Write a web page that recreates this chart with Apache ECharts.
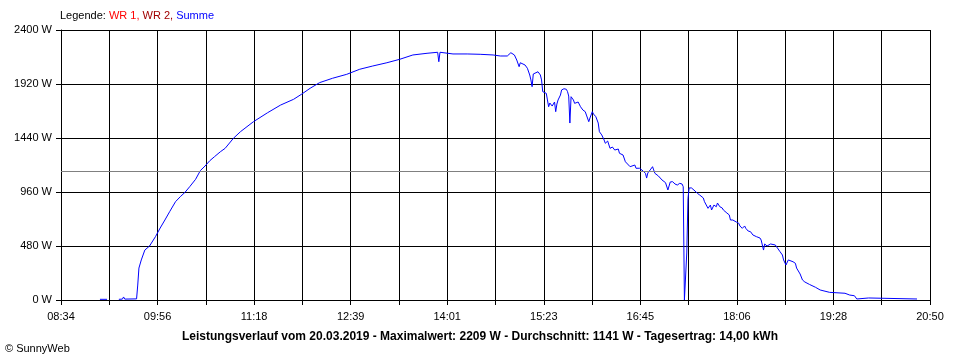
<!DOCTYPE html>
<html>
<head>
<meta charset="utf-8">
<script src="https://cdn.jsdelivr.net/npm/echarts@6/dist/echarts.min.js"></script>
<style>
html,body{margin:0;padding:0;background:#fff;}
#chart{width:960px;height:360px;}
</style>
</head>
<body>
<div id="chart"></div>
<script>
// Time axis: 08:34 .. 20:50
const startTime = '08:34';
const endTime = '20:50';
const yTicks = [0, 480, 960, 1440, 1920, 2400];
const meanValue = 1141;

// Summe (W) readings
const times = [
 '09:07','09:13',null,'09:23','09:26','09:27','09:28','09:38','09:39','09:40','09:42','09:45','09:49','09:54','09:58',
 '10:02','10:06','10:11','10:15','10:19','10:23','10:28','10:32','10:36','10:40','10:44','10:49','10:53','11:00','11:06',
 '11:17','11:29','11:40','11:51','11:58','12:05','12:13','12:24','12:36','12:47','12:58','13:10','13:21','13:32','13:44',
 '13:53','13:54','13:55','14:06','14:18','14:29','14:40','14:46','14:52','14:55','14:58','15:00','15:02','15:03','15:07',
 '15:09','15:11','15:12','15:13','15:14','15:15','15:18','15:20','15:21','15:22','15:25','15:26','15:27','15:28','15:30',
 '15:31','15:32','15:33','15:34','15:35','15:37','15:38','15:40','15:42','15:43','15:44','15:45','15:46','15:48','15:49',
 '15:52','15:54','15:56','15:58','15:59','16:01','16:02','16:04','16:05','16:07','16:09','16:10','16:12','16:14','16:15',
 '16:16','16:17','16:19','16:21','16:23','16:26','16:27','16:30','16:32','16:33','16:36','16:40','16:41','16:44','16:47',
 '16:49','16:50','16:51','16:53','16:55','16:56','16:57','17:00','17:01','17:03','17:06','17:07','17:08','17:10','17:12',
 '17:14','17:16','17:18','17:20','17:21','17:22','17:23','17:24','17:25','17:26','17:28','17:29','17:31','17:33','17:35',
 '17:38','17:39','17:42','17:44','17:45','17:47','17:49','17:50','17:52','17:54','17:55','17:58','18:00','18:01','18:03',
 '18:06','18:08','18:09','18:11','18:13','18:14','18:16','18:18','18:20','18:23','18:26','18:27','18:29','18:30','18:32',
 '18:35','18:36','18:39','18:40','18:43','18:45','18:46','18:48','18:50','18:51','18:54','18:56','18:57','19:00','19:02',
 '19:04','19:08','19:13','19:17','19:25','19:38','19:42','19:46','19:48','19:49','19:58','19:59','20:39'
];
const summe = [
 6,6,null,6,8,27,8,10,133,284,356,444,480,563,640,
 711,785,874,918,957,1007,1073,1150,1191,1238,1274,1318,1348,1437,1496,
 1585,1665,1733,1784,1831,1882,1932,1971,2006,2051,2080,2109,2140,2178,2193,
 2202,2118,2202,2187,2187,2184,2178,2169,2169,2198,2178,2133,2074,2109,2089,
 2060,2000,1956,1896,2009,2015,2029,2000,1956,1852,1837,1778,1718,1751,1724,
 1707,1760,1674,1742,1778,1822,1867,1878,1873,1852,1813,1573,1807,1778,1748,
 1760,1718,1689,1674,1644,1585,1618,1674,1653,1629,1573,1496,1467,1422,1393,
 1393,1413,1348,1360,1333,1342,1304,1289,1229,1215,1185,1200,1171,1171,1147,
 1126,1084,1129,1156,1185,1156,1126,1102,1091,1067,1043,1058,978,1049,1052,
 1031,1022,1037,1031,1007,0,0,418,900,996,996,996,969,948,933,
 907,874,815,844,800,844,829,862,829,818,800,773,756,711,711,
 693,682,658,637,658,637,613,607,578,563,551,533,444,498,480,
 498,489,489,474,429,400,356,311,356,364,340,326,284,231,178,
 160,138,113,89,68,60,44,38,9,22,18,9,9
];

function toMin(s){ const p = s.split(':'); return (+p[0])*60 + (+p[1]); }
const t0 = toMin(startTime), t1 = toMin(endTime);
const span = t1 - t0;
const step = span / 18;
function fmt(m){ const v = Math.round(m); const h = Math.floor(v/60), mm = v%60; return (h<10?'0':'')+h+':'+(mm<10?'0':'')+mm; }

const data = times.map((t,i) => t === null ? [null, null] : [toMin(t) - t0, summe[i]]);
// represent the gap as a null value
for (let i = 0; i < data.length; i++) { if (data[i][0] === null) { data[i] = [(data[i-1][0]+data[i+1][0])/2, null]; } }

const font = 'Liberation Sans, Arial, sans-serif';
const chart = echarts.init(document.getElementById('chart'), null, {renderer:'canvas'});
chart.setOption({
  animation: false,
  backgroundColor: '#fff',
  grid: {left: 61, right: 30, top: 30, bottom: 60, containLabel: false},
  xAxis: {
    type: 'value', min: 0, max: span, interval: step,
    axisLine: {show: true, lineStyle: {color: '#000', width: 1}},
    axisTick: {show: true, length: 5, lineStyle: {color: '#000'}},
    splitLine: {show: true, lineStyle: {color: '#000', width: 1}},
    axisLabel: {
      color: '#000', fontSize: 11, fontFamily: font, margin: 11,
      showMinLabel: true, showMaxLabel: true,
      formatter: function(v){ const k = Math.round(v/step); return k % 2 === 0 ? fmt(t0 + v) : ''; }
    }
  },
  yAxis: {
    type: 'value', min: yTicks[0], max: yTicks[yTicks.length-1], interval: yTicks[1]-yTicks[0],
    axisLine: {show: true, lineStyle: {color: '#000', width: 1}},
    axisTick: {show: true, length: 5, lineStyle: {color: '#000'}},
    splitLine: {show: true, lineStyle: {color: '#000', width: 1}},
    axisLabel: {color: '#000', fontSize: 11, fontFamily: font, margin: 9, formatter: v => v + ' W'}
  },
  series: [{
    type: 'line', data: data, showSymbol: false, connectNulls: false,
    lineStyle: {color: '#0000ff', width: 1}, itemStyle: {color: '#0000ff'},
    z: 3,
    markLine: {
      silent: true, symbol: 'none', label: {show: false},
      lineStyle: {color: '#808080', width: 1, type: 'solid'},
      data: [{yAxis: meanValue}]
    }
  }],
  graphic: [
    {type: 'text', left: 60, top: 10, style: {
      text: '{k|Legende: }{a|WR 1, }{b|WR 2, }{c|Summe}',
      font: '11px ' + font,
      rich: {
        k: {fill: '#000', fontSize: 11, fontFamily: font},
        a: {fill: '#ff0000', fontSize: 11, fontFamily: font},
        b: {fill: '#a00000', fontSize: 11, fontFamily: font},
        c: {fill: '#0000ff', fontSize: 11, fontFamily: font}
      }
    }},
    {type: 'text', x: 480, y: 337, style: {
      text: 'Leistungsverlauf vom 20.03.2019 - Maximalwert: 2209 W - Durchschnitt: 1141 W - Tagesertrag: 14,00 kWh',
      fill: '#000', font: 'bold 12px ' + font, textAlign: 'center', textVerticalAlign: 'middle'
    }},
    {type: 'text', x: 5, y: 349, style: {
      text: '© SunnyWeb', fill: '#000', font: '11px ' + font, textAlign: 'left', textVerticalAlign: 'middle'
    }}
  ]
});
</script>
</body>
</html>
